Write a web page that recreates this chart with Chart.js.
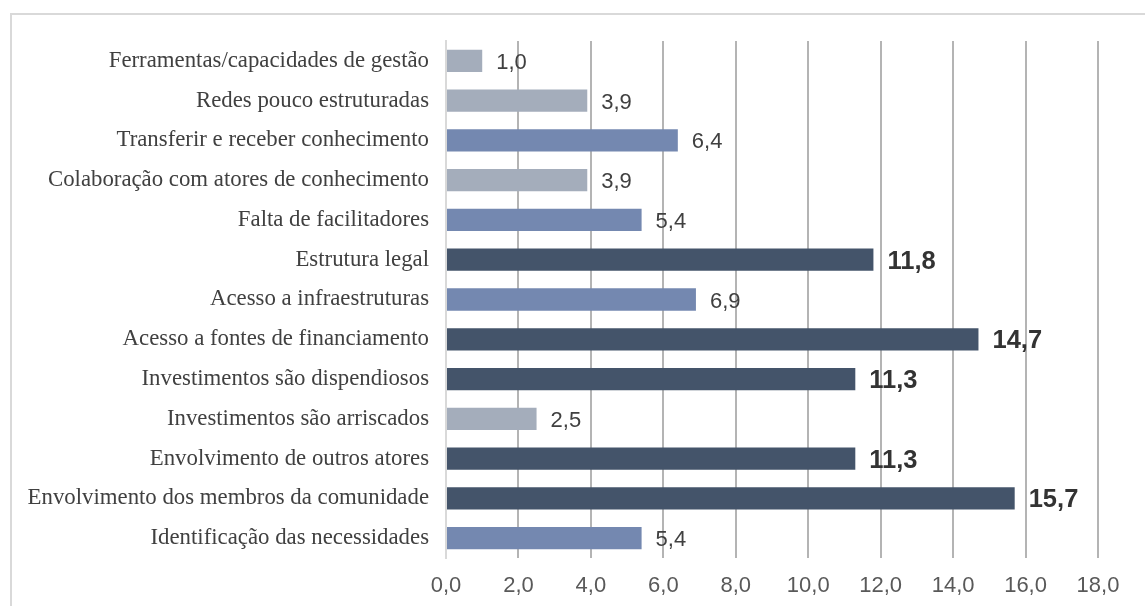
<!DOCTYPE html>
<html>
<head>
<meta charset="utf-8">
<script src="https://cdn.jsdelivr.net/npm/chart.js@4"></script>
<style>
    body { margin: 0; background: #fff; overflow: hidden; }
    #frame { position: absolute; left: 10px; top: 13px; width: 1200px; height: 700px; border: 2px solid #d9d9d9; }
    #wrap { position: absolute; left: 0; top: 0; width: 1145px; height: 606px; }
</style>
</head>
<body>
<div id="frame"></div>
<div id="wrap"><canvas id="barChart" width="1145" height="606"></canvas></div>
<script>
    // categories top to bottom, as in the picture
    const categories = [
        "Ferramentas/capacidades de gestão",
        "Redes pouco estruturadas",
        "Transferir e receber conhecimento",
        "Colaboração com atores de conhecimento",
        "Falta de facilitadores",
        "Estrutura legal",
        "Acesso a infraestruturas",
        "Acesso a fontes de financiamento",
        "Investimentos são dispendiosos",
        "Investimentos são arriscados",
        "Envolvimento de outros atores",
        "Envolvimento dos membros da comunidade",
        "Identificação das necessidades"
    ];
    const values = [1.0, 3.9, 6.4, 3.9, 5.4, 11.8, 6.9, 14.7, 11.3, 2.5, 11.3, 15.7, 5.4];
    // 0 = light, 1 = medium, 2 = dark
    const levels = [0, 0, 1, 0, 1, 2, 1, 2, 2, 0, 2, 2, 1];
    const tickValues = [0, 2, 4, 6, 8, 10, 12, 14, 16, 18];

    const BAR_COLORS = ["#a4adbb", "#7488b0", "#44546a"];

    // draws the value next to each bar
    const valueLabels = {
        id: "valueLabels",
        afterDatasetsDraw(chart) {
            const ctx = chart.ctx;
            const meta = chart.getDatasetMeta(0);
            ctx.save();
            ctx.textBaseline = "middle";
            ctx.textAlign = "left";
            meta.data.forEach((bar, i) => {
                const txt = values[i].toFixed(1).replace(".", ",");
                if (levels[i] === 2) {
                    ctx.font = "bold 25.5px 'Liberation Sans', Arial, sans-serif";
                    ctx.fillStyle = "#333333";
                    ctx.fillText(txt, bar.x + 14, bar.y + 2);
                } else {
                    ctx.font = "22px 'Liberation Sans', Arial, sans-serif";
                    ctx.fillStyle = "#404040";
                    ctx.fillText(txt, bar.x + 14, bar.y + 2);
                }
            });
            ctx.restore();
        }
    };

    const chart = new Chart(document.getElementById("barChart"), {
        type: "bar",
        data: {
            labels: categories,
            datasets: [{
                data: values,
                backgroundColor: levels.map(l => BAR_COLORS[l]),
                borderWidth: 0,
                categoryPercentage: 1,
                barPercentage: 0.56
            }]
        },
        options: {
            indexAxis: "y",
            responsive: false,
            animation: false,
            layout: { padding: { top: 41, right: 47, bottom: 0, left: 20 } },
            plugins: {
                legend: { display: false },
                tooltip: { enabled: false }
            },
            scales: {
                x: {
                    min: 0,
                    max: 18,
                    afterBuildTicks: (scale) => { scale.ticks = tickValues.map(v => ({ value: v })); },
                    afterFit: (scale) => { scale.height = 48; },
                    grid: { color: "#b4b4b4", lineWidth: 2, drawTicks: false },
                    border: { display: false },
                    ticks: {
                        padding: 15,
                        color: "#595959",
                        font: { family: "'Liberation Sans', Arial, sans-serif", size: 22 },
                        callback: (v) => Number(v).toFixed(1).replace(".", ",")
                    }
                },
                y: {
                    afterFit: (scale) => { scale.width = 426; },
                    grid: { display: false, drawTicks: false },
                    border: { display: true, color: "#d9d9d9", width: 2 },
                    ticks: {
                        padding: 17,
                        color: "#404040",
                        font: { family: "'Liberation Serif', 'Times New Roman', serif", size: 22.8 }
                    }
                }
            }
        },
        plugins: [valueLabels]
    });
</script>
</body>
</html>
